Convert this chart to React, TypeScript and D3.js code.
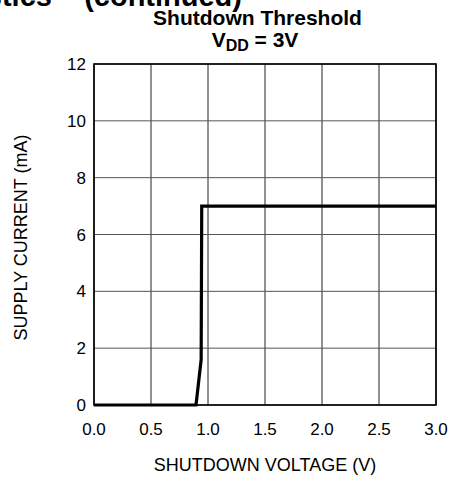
import React from "react";
import * as d3 from "d3";

const voltage = [0, 0.895, 0.94, 0.945, 3.0];
const current = [0, 0, 1.6, 7.0, 7.0];
const xTicks = [0, 0.5, 1.0, 1.5, 2.0, 2.5, 3.0];
const xTickLabels = ["0.0", "0.5", "1.0", "1.5", "2.0", "2.5", "3.0"];
const yTicks = [0, 2, 4, 6, 8, 10, 12];
const yTickLabels = ["0", "2", "4", "6", "8", "10", "12"];

const W = 449;
const H = 480;
const M = { left: 94, right: 436, top: 64, bottom: 405 };
const FONT = "'Liberation Sans', Arial, Helvetica, sans-serif";

export default function App() {
  const x = d3.scaleLinear().domain([0, 3]).range([M.left, M.right]);
  const y = d3.scaleLinear().domain([0, 12]).range([M.bottom, M.top]);
  const pts: [number, number][] = voltage.map((v, i) => [v, current[i]]);
  const line = d3
    .line<[number, number]>()
    .x((d) => x(d[0]))
    .y((d) => y(d[1]));

  return (
    <svg
      width={W}
      height={H}
      style={{ position: "absolute", left: 0, top: 0, background: "#fff" }}
      fontFamily={FONT}
    >
      <rect x={0} y={0} width={W} height={H} fill="#fff" />
      {/* clipped section heading */}
      <text x={242} y={6} textAnchor="end" fontSize={29} fontWeight="bold" fill="#000">
        Typical Characteristics – (continued)
      </text>
      {/* title */}
      <text x={257.5} y={25} textAnchor="middle" fontSize={21} fontWeight="bold" fill="#000">
        Shutdown Threshold
      </text>
      <text x={255} y={47} textAnchor="middle" fontSize={21} fontWeight="bold" fill="#000">
        V<tspan fontSize={16} dy={4}>DD</tspan>
        <tspan dy={-4}> = 3V</tspan>
      </text>

      {/* grid */}
      {xTicks.map((t) => (
        <line key={"gx" + t} x1={x(t)} x2={x(t)} y1={M.top} y2={M.bottom} stroke="#222" strokeWidth={1} />
      ))}
      {yTicks.map((t) => (
        <line key={"gy" + t} x1={M.left} x2={M.right} y1={y(t)} y2={y(t)} stroke="#555" strokeWidth={1} />
      ))}
      <rect
        x={M.left}
        y={M.top}
        width={M.right - M.left}
        height={M.bottom - M.top}
        fill="none"
        stroke="#000"
        strokeWidth={1.6}
      />

      {/* data */}
      <path d={line(pts) || ""} fill="none" stroke="#000" strokeWidth={3.2} strokeLinejoin="miter" />

      {/* tick labels */}
      {xTicks.map((t, i) => (
        <text key={"xl" + t} x={x(t)} y={435} textAnchor="middle" fontSize={17} fill="#000">
          {xTickLabels[i]}
        </text>
      ))}
      {yTicks.map((t, i) => (
        <text key={"yl" + t} x={86} y={y(t) + 6} textAnchor="end" fontSize={17} fill="#000">
          {yTickLabels[i]}
        </text>
      ))}

      {/* axis titles */}
      <text x={265} y={471} textAnchor="middle" fontSize={18} fill="#000">
        SHUTDOWN VOLTAGE (V)
      </text>
      <text
        transform={`translate(27,${237.5}) rotate(-90)`}
        textAnchor="middle"
        fontSize={18}
        fill="#000"
      >
        SUPPLY CURRENT (mA)
      </text>
    </svg>
  );
}
